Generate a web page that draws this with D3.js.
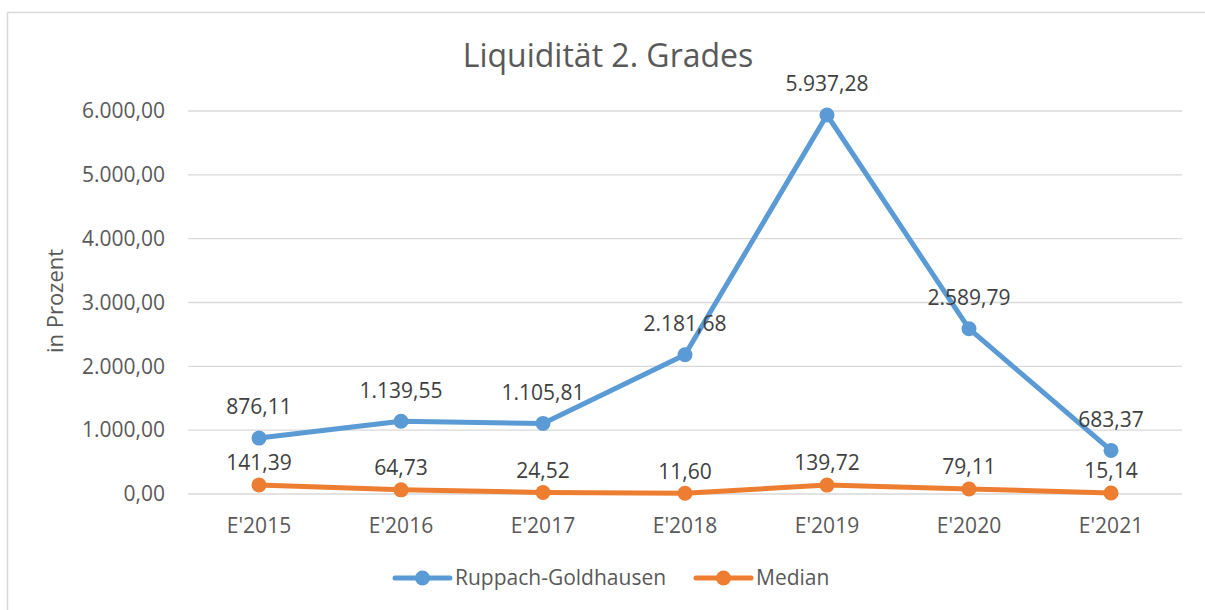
<!DOCTYPE html>
<html>
<head>
<meta charset="utf-8">
<script src="https://cdn.jsdelivr.net/npm/d3@7"></script>
<style>
  html, body { margin: 0; padding: 0; background: #fff; }
  svg { display: block; font-family: "Open Sans", "Noto Sans", sans-serif; }
</style>
</head>
<body>
<svg id="chart" width="1205" height="610"></svg>
<script>
// Liquidität 2. Grades – Ruppach-Goldhausen vs. Median
const categories = ["E'2015", "E'2016", "E'2017", "E'2018", "E'2019", "E'2020", "E'2021"];
const ruppach = [876.11, 1139.55, 1105.81, 2181.68, 5937.28, 2589.79, 683.37];
const median = [141.39, 64.73, 24.52, 11.60, 139.72, 79.11, 15.14];
const yTicks = [0, 1000, 2000, 3000, 4000, 5000, 6000];
const seriesNames = ["Ruppach-Goldhausen", "Median"];
const seriesColors = ["#5B9BD5", "#ED7D31"];

const deDE = d3.formatLocale({ decimal: ",", thousands: ".", grouping: [3], currency: ["", " €"] });
const fmt = deDE.format(",.2f");

const svg = d3.select("#chart");
const W = 1205, H = 610;

// outer chart frame
svg.append("rect")
  .attr("x", 7.5).attr("y", 12.5)
  .attr("width", W + 10).attr("height", H + 10)
  .attr("fill", "none").attr("stroke", "#d9d9d9").attr("stroke-width", 1.5);

const plot = { left: 188, right: 1182, top: 111, bottom: 494 };

const x = d3.scaleBand().domain(categories).range([plot.left, plot.right]);
const y = d3.scaleLinear().domain([0, 6000]).range([plot.bottom, plot.top]);
const cx = d => x(d) + x.bandwidth() / 2;

// gridlines
svg.append("g")
  .selectAll("line").data(yTicks).join("line")
  .attr("x1", plot.left).attr("x2", plot.right)
  .attr("y1", d => y(d)).attr("y2", d => y(d))
  .attr("stroke", "#d9d9d9").attr("stroke-width", 1.3);

// y axis labels
const yAxis = d3.axisLeft(y).tickValues(yTicks).tickFormat(fmt).tickSize(0).tickPadding(23);
const gy = svg.append("g").attr("transform", `translate(${plot.left},0)`).call(yAxis);
gy.select(".domain").remove();
gy.selectAll("text").attr("fill", "#595959").style("font-size", "21px")
  .style("font-family", "'Open Sans', sans-serif");

// x axis labels
const xAxis = d3.axisBottom(x).tickSize(0).tickPadding(24);
const gx = svg.append("g").attr("transform", `translate(0,${plot.bottom})`).call(xAxis);
gx.select(".domain").remove();
gx.selectAll("text").attr("fill", "#595959").style("font-size", "21px")
  .style("font-family", "'Open Sans', sans-serif");

// title
svg.append("text")
  .attr("x", 608).attr("y", 67)
  .attr("text-anchor", "middle")
  .attr("fill", "#595959")
  .style("font-size", "32px")
  .text("Liquidität 2. Grades");

// y axis title
svg.append("text")
  .attr("transform", "translate(63,301) rotate(-90)")
  .attr("text-anchor", "middle")
  .attr("fill", "#595959")
  .style("font-size", "22px")
  .text("in Prozent");

const line = d3.line().x((d, i) => cx(categories[i])).y(d => y(d));

const series = [
  { name: seriesNames[0], values: ruppach, color: seriesColors[0], labelOffset: 31 },
  { name: seriesNames[1], values: median, color: seriesColors[1], labelOffset: 22 }
];

series.forEach(s => {
  const g = svg.append("g");
  g.append("path")
    .attr("d", line(s.values))
    .attr("fill", "none")
    .attr("stroke", s.color)
    .attr("stroke-width", 5)
    .attr("stroke-linejoin", "round")
    .attr("stroke-linecap", "round");
  g.selectAll("circle").data(s.values).join("circle")
    .attr("cx", (d, i) => cx(categories[i]))
    .attr("cy", d => y(d))
    .attr("r", 7.5)
    .attr("fill", s.color);
});

// data labels drawn after both series so they sit on top
series.forEach(s => {
  svg.append("g").selectAll("text").data(s.values).join("text")
    .attr("x", (d, i) => cx(categories[i]))
    .attr("y", d => y(d) - s.labelOffset)
    .attr("dy", "0.35em")
    .attr("text-anchor", "middle")
    .attr("fill", "#404040")
    .style("font-size", "21px")
    .text(d => fmt(d));
});

// legend
const legend = svg.append("g");
const legendItems = [
  { name: seriesNames[0], color: seriesColors[0], x: 395 },
  { name: seriesNames[1], color: seriesColors[1], x: 696 }
];
legendItems.forEach(it => {
  const g = legend.append("g").attr("transform", `translate(${it.x},578)`);
  g.append("line").attr("x1", 0).attr("x2", 55).attr("y1", 0).attr("y2", 0)
    .attr("stroke", it.color).attr("stroke-width", 5).attr("stroke-linecap", "round");
  g.append("circle").attr("cx", 27.5).attr("cy", 0).attr("r", 7.5).attr("fill", it.color);
  g.append("text").attr("x", 60).attr("y", 0).attr("dy", "0.35em")
    .attr("fill", "#595959").style("font-size", "21px").text(it.name);
});
</script>
</body>
</html>
